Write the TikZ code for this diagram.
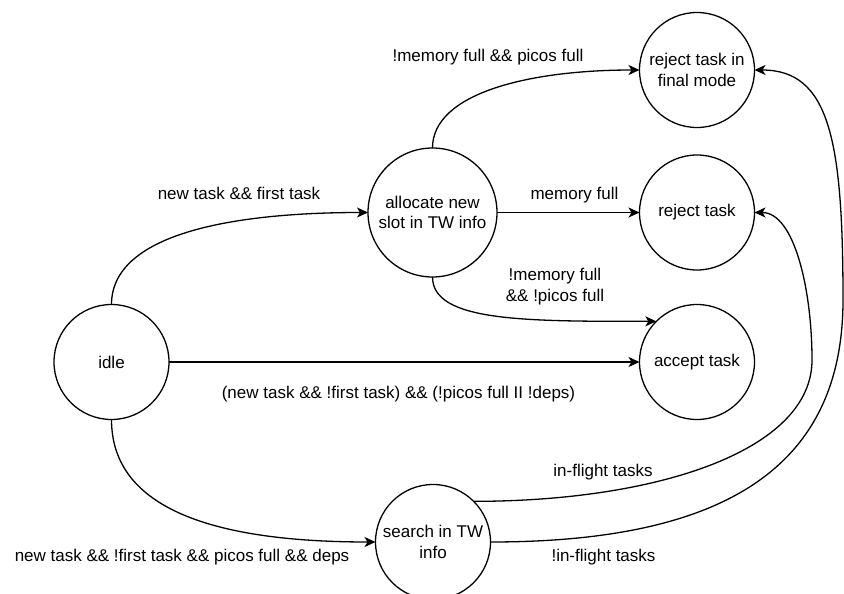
\documentclass[tikz,border=0pt]{standalone}
\usepackage{fontspec}
\setmainfont{Liberation Sans}
\usetikzlibrary{arrows.meta,calc}
\newcommand\lblfont{\fontsize{17}{20.5}\selectfont}
\begin{document}
\begin{tikzpicture}[x=1pt,y=-1pt,
  state/.style={circle,draw,line width=1.3pt,minimum size=115pt,inner sep=1pt,
    outer sep=0pt,align=center,font=\lblfont},
  edge/.style={line width=1.3pt,-{Stealth[length=11pt,width=10pt,inset=3pt]}},
  lbl/.style={font=\lblfont,inner sep=0pt,anchor=base}]
  \fill[white] (0,0) rectangle (844,594);
  \useasboundingbox (0,0) rectangle (844,594);

  % states
  \node[state] (idle) at (111.5,362) {idle};
  \node[state,minimum size=129pt] (alloc) at (432.5,212.5) {allocate new\\slot in TW info};
  \node[state] (rejf) at (697,70) {reject task in\\final mode};
  \node[state] (rej) at (697,212.5) {reject task};
  \node[state] (acc) at (697,362) {accept task};
  \node[state] (srch) at (433,542) {search in TW\\info};

  % bends of the two long return edges
  \coordinate (bendA) at (812,360);
  \coordinate (bendB) at (843,300);

  % transitions
  \draw[edge] (idle.north) .. controls ($(idle.north)+(0,-70)$) and ($(alloc.west)+(-138,0)$) .. (alloc.west);
  \draw[edge] (alloc.north) .. controls ($(alloc.north)+(0,-55)$) and ($(rejf.west)+(-110,0)$) .. (rejf.west);
  \draw[edge] (alloc.east) -- (rej.west);
  \draw[edge] (alloc.south) .. controls ($(alloc.south)+(0,45)$) and ($(acc.north west)+(-130,0)$) .. (acc.north west);
  \draw[edge] (idle.east) -- (acc.west);
  \draw[edge] (idle.south) .. controls ($(idle.south)+(0,90)$) and ($(srch.west)+(-160,0)$) .. (srch.west);
  \draw[edge] (srch.north east) .. controls ($(srch.north east)+(185,0)$) and ($(bendA)+(0,90)$) .. (bendA)
    .. controls ($(bendA)+(0,-70)$) and ($(rej.east)+(40,0)$) .. (rej.east);
  \draw[edge] (srch.east) .. controls ($(srch.east)+(230,0)$) and ($(bendB)+(0,170)$) .. (bendB)
    .. controls ($(bendB)+(0,-160)$) and ($(rejf.east)+(75,0)$) .. (rejf.east);

  % transition labels
  \node[lbl] (l1) at (239,199) {new task \&\& first task};
  \node[lbl] (l2) at (488,62) {!memory full \&\& picos full};
  \node[lbl] (l3) at (574.5,199) {memory full};
  \node[font=\lblfont,inner sep=0pt,align=center] (l4) at (555,286.5) {!memory full\\\&\& !picos full};
  \node[lbl] (l5) at (398.5,398) {(new task \&\& !first task) \&\& (!picos full II !deps)};
  \node[lbl] (l6) at (182,561.5) {new task \&\& !first task \&\& picos full \&\& deps};
  \node[lbl] (l7) at (603,476) {in-flight tasks};
  \node[lbl] (l8) at (603.5,561.5) {!in-flight tasks};
\end{tikzpicture}
\end{document}
